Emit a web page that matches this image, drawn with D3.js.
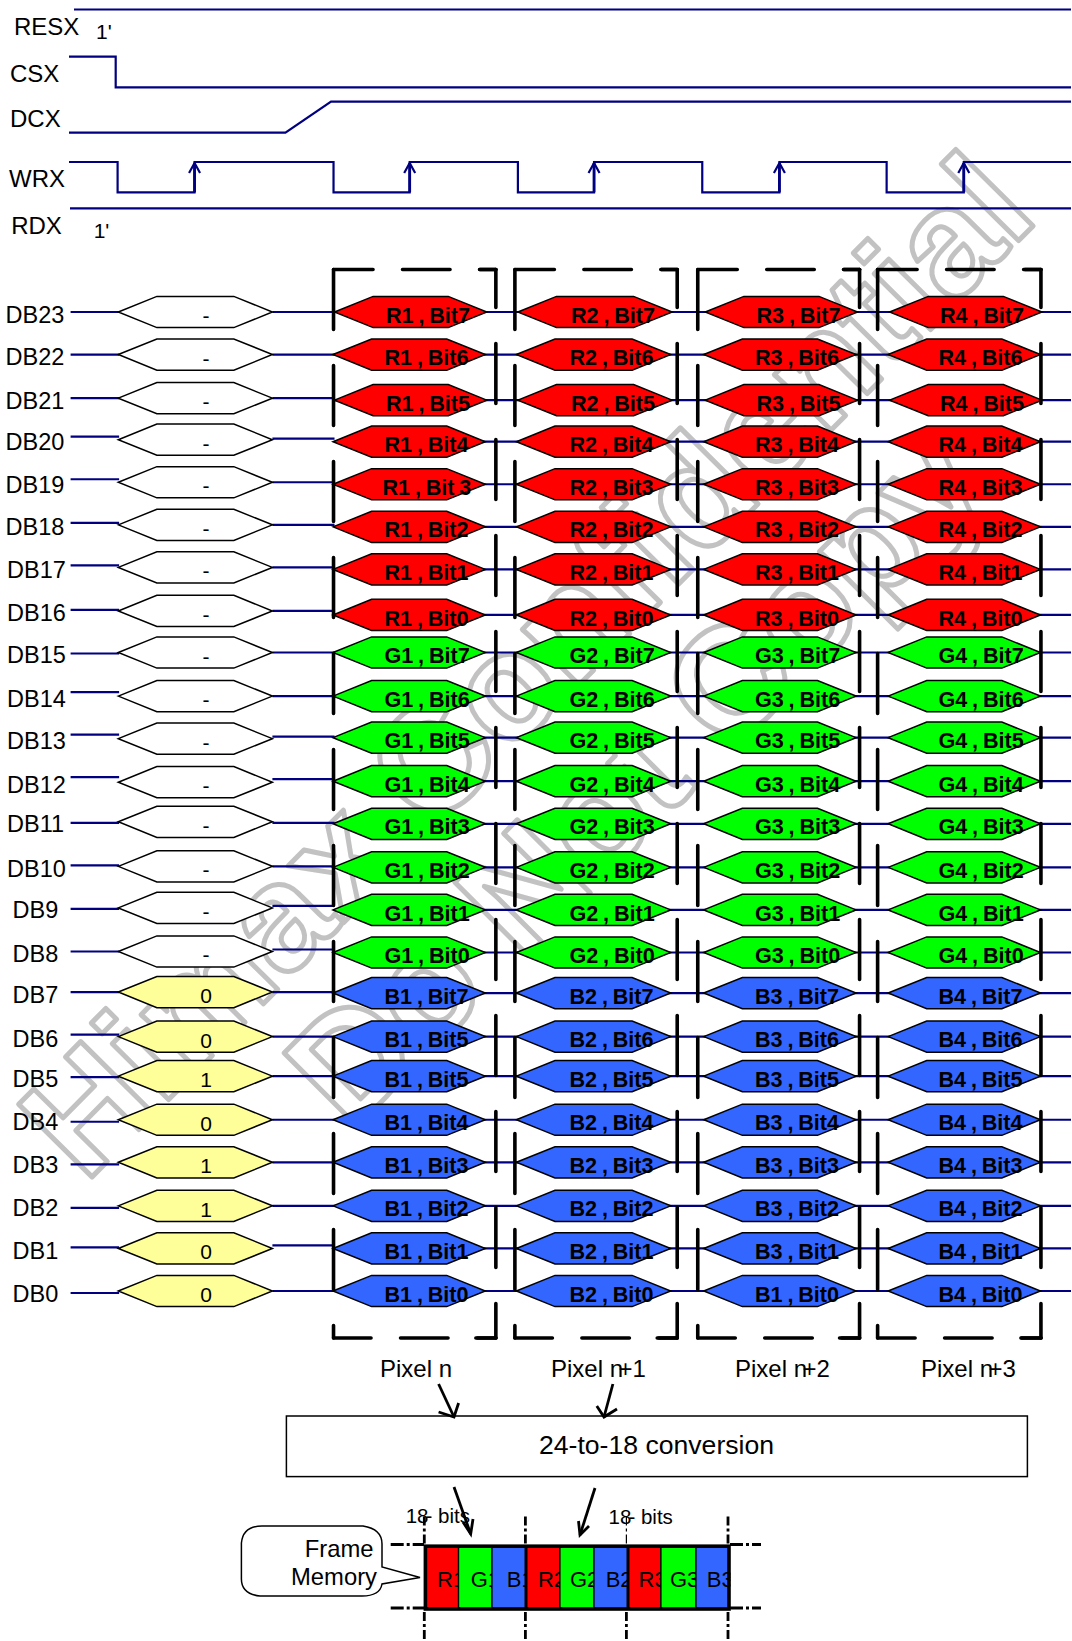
<!DOCTYPE html>
<html><head><meta charset="utf-8">
<script src="https://cdn.jsdelivr.net/npm/d3@7/dist/d3.min.js"></script>
<style>
html,body{margin:0;padding:0;background:#fff}
svg{display:block}
text{font-family:"Liberation Sans",Arial,sans-serif;fill:#000}
</style></head><body>
<svg id="c" width="1072" height="1641"></svg>
<script>
// ---------- DATA ----------
const rowNames = ["DB23","DB22","DB21","DB20","DB19","DB18","DB17","DB16","DB15","DB14","DB13","DB12","DB11","DB10","DB9","DB8","DB7","DB6","DB5","DB4","DB3","DB2","DB1","DB0"];
const dataValues = ["-","-","-","-","-","-","-","-","-","-","-","-","-","-","-","-","0","0","1","0","1","1","0","0"];
const rowChannels = ["R","R","R","R","R","R","R","R","G","G","G","G","G","G","G","G","B","B","B","B","B","B","B","B"];
const rowBits = [7,6,5,4,3,2,1,0,7,6,5,4,3,2,1,0,7,6,5,4,3,2,1,0];
const pixelIds = [1,2,3,4];
const pixelNames = ["Pixel n","Pixel n+1","Pixel n+2","Pixel n+3"];
const labelExceptions = {"DB19|0":"R1 , Bit 3","DB6|0":"B1 , Bit5","DB0|2":"B1 , Bit0"};
// control signals in time units (0..100 across the diagram): edge times
const csxFall = [4.66];
const dcxRamp = [21.6,26.15];
const wrxEdges = [4.85,12.53,26.4,34.0,44.8,52.4,63.2,70.9,81.6,89.3];
const blankSpan = [5.0,20.3];
const pixelSpans = [[26.5,41.7],[44.8,60.2],[63.5,78.7],[81.9,97.1]];
const bracketSpans = [[26.4,42.6],[44.5,60.7],[62.75,78.9],[80.7,97.0]];
const memCells = ["R1","G1","B1","R2","G2","B2","R3","G3","B3"];
const memEdges = [425.4,458.6,492,526,560,594,628,661,696,729];

// ---------- SCALES / LAYOUT ----------
const svg = d3.select("#c");
const T = d3.scaleLinear().domain([0,100]).range([69,1071]);
const Y = d3.scalePoint().domain(rowNames).range([312,1291]);
const nav = "#000080";
const colors = {R:"#ff0000",G:"#00ff00",B:"#3366ff"};
const slant = T(3.85)-T(0);
const hh = 15.6;
// small hand-drawing drifts seen in the reference (px)
const driftLeft  = [0,0,1,-3,-3,-2,-2,0,1,-3,-3,-3,0,0,1,1,-1,-1,-1,1,1,2,-1,2];
const driftMid   = [0,0,1,-1,0,0,0,1,0,1,-1,-1,0,1,-2,-1,-1,1,-2,-1,-1,0,-3,0];
const driftBlank = [0,0,1,0,0,0,0,1,0,1,1,2,-1,1,0,1,-1,1,-2,-1,-1,0,0,0];
const driftPix   = [0,0,3,2,2,2,2,5,0,1,0,1,1,2,2,2,0,1,-2,-1,-1,0,0,0];
const rowDx      = [1.5,0,1.5,0,0,0,0,0,0,0,0,0,0,0,0,0,0,0,0,0,0,0,0,0];
const textX = [384.5,569.5,755,938.5];

function hexPts(x0,x1,y){
  return [[x0,y],[x0+slant,y-hh],[x1-slant,y-hh],[x1,y],[x1-slant,y+hh],[x0+slant,y+hh]];
}
const line = d3.line();

// ---------- WATERMARK ----------
const wm = svg.append("g").attr("class","wm");
[["Himax Confidential",85,1184,-45.3],["Do Not Copy",350,1133,-45]].forEach(d=>{
  wm.append("text").text(d[0])
    .attr("transform",`translate(${d[1]},${d[2]}) rotate(${d[3]})`)
    .style("font-size","150px").style("font-weight","bold")
    .style("fill","none").style("stroke","#c2c2c2").style("stroke-width",5)
    .style("stroke-linejoin","round");
});

// ---------- CONTROL SIGNALS ----------
const sig = svg.append("g").attr("fill","none").attr("stroke",nav).attr("stroke-width",2.2);
const yRes=9.5, yCsHi=56.7, yCsLo=87.3, yDcLo=132.7, yDcHi=101.7, yWrHi=162, yWrLo=192.3, yRd=208.3;
sig.append("path").attr("d",line([[74,yRes],[T(100),yRes]]));
sig.append("path").attr("d",line([[T(0),yCsHi],[T(csxFall[0]),yCsHi],[T(csxFall[0]),yCsLo],[T(100),yCsLo]]));
sig.append("path").attr("d",line([[T(0),yDcLo],[T(dcxRamp[0]),yDcLo],[T(dcxRamp[1]),yDcHi],[T(100),yDcHi]]));
let wrPts=[[T(0),yWrHi]], lvl=yWrHi;
wrxEdges.forEach(t=>{ wrPts.push([T(t),lvl]); lvl = lvl===yWrHi?yWrLo:yWrHi; wrPts.push([T(t),lvl]); });
wrPts.push([T(100),lvl]);
sig.append("path").attr("d",line(wrPts));
sig.append("path").attr("d",line([[70,yRd],[T(100),yRd]]));
// rising-edge arrows on WRX
wrxEdges.filter((e,i)=>i%2===1).forEach(t=>{
  const x=T(t);
  sig.append("path").attr("stroke-width",2.8).attr("d",line([[x,yWrLo],[x,yWrHi+1]]));
  sig.append("path").attr("stroke-width",2.2).attr("d",line([[x-5.5,yWrHi+11],[x,yWrHi+1],[x+5.5,yWrHi+11]]));
});
const ctl = svg.append("g").style("font-size","24px");
[["RESX",14,35],["CSX",10,82],["DCX",10,126.7],["WRX",9,187],["RDX",11.2,234]].forEach(d=>{
  ctl.append("text").text(d[0]).attr("x",d[1]).attr("y",d[2]);
});
[[96,39],[93.7,237.7]].forEach(d=>{
  ctl.append("text").text("1'").attr("x",d[0]).attr("y",d[1]).style("font-size","21px");
});

// ---------- DATA BUS ROWS ----------
const rows = rowNames.map((n,i)=>({n,i,y:Y(n)}));
const bus = svg.append("g");
// signal wires
bus.selectAll("path.l").data(rows).join("path").attr("fill","none").attr("stroke",nav).attr("stroke-width",2.2)
  .attr("d",d=>line([[70.6,d.y+driftLeft[d.i]],[T(blankSpan[0]),d.y+driftLeft[d.i]]]));
bus.selectAll("path.m").data(rows).join("path").attr("fill","none").attr("stroke",nav).attr("stroke-width",2.2)
  .attr("d",d=>line([[T(blankSpan[1]),d.y+driftMid[d.i]],[T(pixelSpans[0][0]),d.y+driftMid[d.i]]]));
bus.selectAll("path.r").data(rows).join("path").attr("fill","none").attr("stroke",nav).attr("stroke-width",2.2)
  .attr("d",d=>line([[T(pixelSpans[0][0]),d.y+driftPix[d.i]],[T(100),d.y+driftPix[d.i]]]));
// row names
bus.selectAll("text.name").data(rows).join("text").text(d=>d.n)
  .attr("x",d=>d.n.length===3?12.5:(d.i<6?5.5:7))
  .attr("y",d=>d.y+driftBlank[d.i]+10.5)
  .style("font-size","23.5px");
// value hexes
bus.selectAll("polygon.v").data(rows).join("polygon")
  .attr("points",d=>hexPts(T(blankSpan[0])-0.8,T(blankSpan[1]),d.y+driftBlank[d.i]).join(" "))
  .attr("fill",(d)=>dataValues[d.i]==="-"?"#fff":"#ffff99").attr("stroke","#000").attr("stroke-width",1.5);
bus.selectAll("text.v").data(rows).join("text").text(d=>dataValues[d.i])
  .attr("x",206).attr("text-anchor","middle")
  .attr("y",d=>d.y+driftBlank[d.i]+11).style("font-size","21px");
// pixel hexes
pixelSpans.forEach((sp,c)=>{
  const g=bus.append("g");
  g.selectAll("polygon").data(rows).join("polygon")
    .attr("points",d=>hexPts(T(sp[0])+rowDx[d.i]-1.5,T(sp[1])+rowDx[d.i]-1.5,d.y+driftPix[d.i]).join(" "))
    .attr("fill",d=>colors[rowChannels[d.i]]).attr("stroke","#000").attr("stroke-width",1.5);
  g.selectAll("text").data(rows).join("text")
    .text(d=>labelExceptions[d.n+"|"+c]||`${rowChannels[d.i]}${pixelIds[c]} , Bit${rowBits[d.i]}`)
    .attr("x",d=>textX[c]+rowDx[d.i]-((d.n==="DB19"&&c===0)?2:0))
    .attr("y",d=>d.y+driftPix[d.i]+10.6)
    .style("font-size","21.6px").style("font-weight","bold").style("word-spacing","-1.2px");
});

// ---------- DASHED PIXEL BRACKETS ----------
const br = svg.append("g").attr("fill","none").attr("stroke","#000").attr("stroke-width",3.6).attr("stroke-linecap","round");
const bTop=269.5, bBot=1338;
bracketSpans.forEach(sp=>{
  const a=T(sp[0]), b=T(sp[1]);
  br.append("path").attr("d",line([[a,bTop],[b,bTop]])).attr("stroke-dasharray","47.5 29.5").attr("stroke-dashoffset",8);
  br.append("path").attr("d",line([[a,bBot],[b,bBot]])).attr("stroke-dasharray","47.5 29.5").attr("stroke-dashoffset",10);
  br.append("path").attr("d",line([[a,bTop],[a,bBot]])).attr("stroke-dasharray","60 36");
  br.append("path").attr("d",line([[b,bTop],[b,bBot]])).attr("stroke-dasharray","60 36").attr("stroke-dashoffset",22);
  br.append("path").attr("d",line([[b-16,bTop],[b,bTop]]));
  br.append("path").attr("d",line([[b-20,bBot],[b,bBot]]));
});

// ---------- PIXEL LABELS ----------
const pl = svg.append("g").style("font-size","24px");
[380,551,735,921].forEach((x,i)=>{
  const nm=pixelNames[i], k=nm.indexOf("+");
  pl.append("text").text(nm).attr("x",x).attr("y",1377)
    .attr("dx",k<0?null:d3.range(nm.length).map(j=>j===k?-4.5:0).join(" "));
});
const ar = svg.append("g").attr("fill","none").attr("stroke","#000").attr("stroke-width",2.8);
ar.append("path").attr("d",line([[438.6,1384],[454,1417]]));
ar.append("path").attr("d",line([[438.6,1412],[454,1417],[458.6,1403]]));
ar.append("path").attr("d",line([[612.9,1384],[604,1417]]));
ar.append("path").attr("d",line([[596.8,1406],[604,1417],[617,1409]]));

// ---------- CONVERSION BOX ----------
svg.append("rect").attr("x",286.4).attr("y",1416).attr("width",741).attr("height",60.6)
  .attr("fill","#fff").attr("stroke","#000").attr("stroke-width",1.5);
svg.append("text").text("24-to-18 conversion").attr("x",539).attr("y",1454).style("font-size","26.6px");
ar.append("path").attr("d",line([[454,1487],[470.7,1534]]));
ar.append("path").attr("d",line([[463,1522],[470.7,1534],[473,1519]]));
ar.append("path").attr("d",line([[595,1488],[580,1535]]));
ar.append("path").attr("d",line([[578.5,1521],[580,1535],[589,1526]]));
ar.raise();

// ---------- FRAME MEMORY ----------
const memTop=1546.2, memBot=1609;
const mem = svg.append("g");
const defs = svg.append("defs");
defs.append("clipPath").attr("id","memclip").append("rect").attr("x",420).attr("y",memTop).attr("width",310.5).attr("height",memBot-memTop);
const memG = mem.append("g").attr("clip-path","url(#memclip)");
const memLabelX=[437,470.7,506.8,537.9,570,605.7,638.6,670,706.8];
memCells.forEach((c,i)=>{
  memG.append("rect").attr("x",memEdges[i]).attr("y",memTop).attr("width",memEdges[i+1]-memEdges[i]).attr("height",memBot-memTop)
    .attr("fill",colors[c[0]]).attr("stroke","#000").attr("stroke-width",(i%3===0)?1.6:1.2);
  memG.append("text").text(c).attr("x",memLabelX[i]).attr("y",1586.6).style("font-size","22px");
});
mem.append("rect").attr("x",memEdges[0]).attr("y",memTop).attr("width",memEdges[9]-memEdges[0]).attr("height",memBot-memTop)
  .attr("fill","none").attr("stroke","#000").attr("stroke-width",3.6);
[3,6].forEach(i=>mem.append("path").attr("stroke","#000").attr("stroke-width",3).attr("d",line([[memEdges[i],memTop],[memEdges[i],memBot]])));
// dash-dot guides
const gd = svg.append("g").attr("fill","none").attr("stroke","#000").attr("stroke-width",2.8);
[424.3,525.4,626.4,728].forEach((x,i)=>{
  gd.append("path").attr("stroke-width",i===2?1.2:2.8).attr("stroke-dasharray","9 3 3 3").attr("d",line([[x,1516.5],[x,1544]]));
  gd.append("path").attr("stroke-dasharray","9 3 3 3").attr("d",line([[x,1612],[x,1641]]));
});
[[390.7,424,1544.5],[730,761,1544.5],[390.7,424,1608],[730,761,1608]].forEach(d=>{
  gd.append("path").attr("stroke-dasharray","13 3 3 3").attr("d",line([[d[0],d[2]],[d[1],d[2]]]));
});
const b18 = svg.append("g").style("font-size","20.5px");
[[405.7,1523],[608.6,1524]].forEach(d=>{
  const s="18- bits";
  b18.append("text").text(s).attr("x",d[0]).attr("y",d[1]).attr("dx",d3.range(s.length).map(j=>j===2?-3:0).join(" "));
});
// callout
svg.append("path").attr("d","M262,1526 L363,1526 Q382,1529 382,1544 L382,1567 L420,1577.5 L382,1584 Q380,1596 362,1596 L260,1596 Q241.4,1594 241.4,1579 L241.4,1543 Q243,1526 262,1526 Z")
  .attr("fill","#fff").attr("stroke","#000").attr("stroke-width",1.5);
svg.append("text").text("Frame").attr("x",373.6).attr("y",1557).attr("text-anchor","end").style("font-size","23.8px");
svg.append("text").text("Memory").attr("x",377).attr("y",1584.5).attr("text-anchor","end").style("font-size","23.8px");
</script>
</body></html>
